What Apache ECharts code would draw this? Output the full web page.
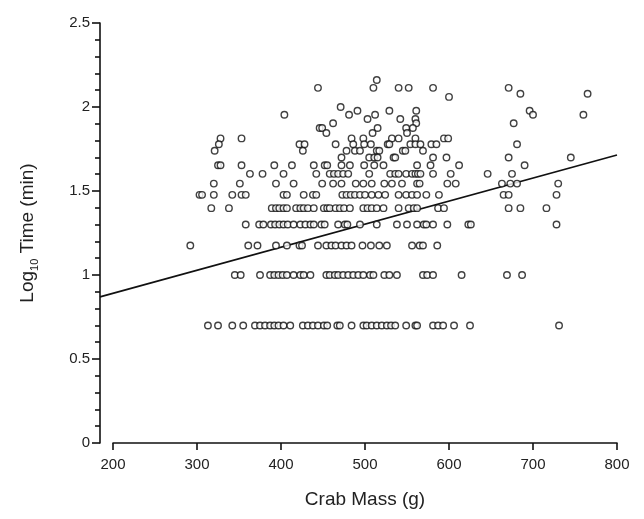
<!DOCTYPE html>
<html>
<head>
<meta charset="utf-8">
<script src="https://cdn.jsdelivr.net/npm/echarts@6/dist/echarts.min.js"></script>
<style>
html,body{margin:0;padding:0;background:#fff;}
#c{width:644px;height:519px;}
</style>
</head>
<body>
<div id="c"></div>
<script>
// Log10 time levels (rows) and crab masses (g) read per row
const timeLevels = [2.161, 2.114, 2.079, 2.06, 2.0, 1.978, 1.954, 1.929, 1.903, 1.875, 1.845, 1.813, 1.778, 1.740, 1.699, 1.653, 1.602, 1.544, 1.477, 1.398, 1.301, 1.176, 1.0, 0.699];
const mass2161 = [514];
const mass2114 = [444, 510, 540, 552, 581, 671];
const mass2079 = [685, 765];
const mass2060 = [600];
const mass2000 = [471];
const mass1978 = [491, 529, 561, 696];
const mass1954 = [404, 481, 512, 700, 760];
const mass1929 = [503, 542, 560];
const mass1903 = [462, 561, 677];
const mass1875 = [446, 449, 515, 549, 557];
const mass1845 = [454, 509, 550];
const mass1813 = [328, 353, 484, 498, 532, 540, 560, 594, 599];
const mass1778 = [326, 422, 428, 465, 486, 499, 507, 527, 529, 554, 560, 566, 579, 585, 681];
const mass1740 = [321, 426, 478, 488, 494, 514, 517, 545, 548, 569];
const mass1699 = [472, 505, 511, 515, 534, 536, 581, 597, 671, 745];
const mass1653 = [325, 328, 353, 392, 413, 439, 452, 455, 472, 482, 499, 511, 522, 562, 578, 612, 690];
const mass1602 = [363, 378, 403, 442, 458, 463, 468, 474, 480, 505, 530, 536, 540, 549, 556, 560, 563, 566, 581, 602, 646, 675];
const mass1544 = [320, 351, 394, 415, 449, 462, 472, 489, 498, 508, 523, 532, 544, 562, 565, 598, 608, 663, 673, 681, 730];
const mass1477 = [303, 306, 320, 342, 353, 358, 403, 407, 427, 438, 442, 473, 478, 483, 488, 494, 500, 508, 516, 524, 540, 549, 556, 562, 573, 588, 665, 671, 728];
const mass1398 = [317, 338, 389, 394, 398, 403, 407, 418, 423, 427, 432, 439, 451, 455, 458, 465, 470, 475, 482, 498, 503, 508, 514, 522, 540, 552, 558, 562, 587, 594, 671, 685, 716];
const mass1301 = [358, 374, 379, 388, 393, 398, 403, 408, 415, 423, 429, 435, 439, 448, 452, 468, 476, 479, 494, 514, 538, 550, 562, 570, 573, 581, 598, 623, 626, 728];
const mass1176 = [292, 361, 372, 394, 407, 422, 425, 444, 454, 460, 465, 472, 478, 484, 497, 507, 517, 526, 556, 565, 569, 586];
const mass1000 = [345, 352, 375, 387, 392, 397, 402, 407, 415, 423, 427, 435, 454, 458, 464, 468, 474, 480, 486, 492, 498, 506, 510, 523, 529, 538, 569, 574, 581, 615, 669, 687];
const mass0699 = [313, 325, 342, 355, 369, 375, 381, 387, 392, 397, 403, 411, 426, 432, 438, 444, 451, 455, 467, 470, 484, 498, 502, 508, 514, 520, 526, 531, 536, 549, 560, 562, 581, 587, 593, 606, 625, 731];

// Regression line endpoints (from the y axis to 800 g)
const fitMass = [184.5, 800];
const fitLog = [0.87, 1.714];

// Axis ticks
const xMin = 184.5;
const xTicks = [200, 300, 400, 500, 600, 700, 800];
const yTicks = [0, 0.5, 1, 1.5, 2, 2.5];

const rows = [mass2161, mass2114, mass2079, mass2060, mass2000, mass1978, mass1954, mass1929, mass1903, mass1875, mass1845, mass1813, mass1778, mass1740, mass1699, mass1653, mass1602, mass1544, mass1477, mass1398, mass1301, mass1176, mass1000, mass0699];
const scatterData = [];
rows.forEach((r, i) => r.forEach(m => scatterData.push([m, timeLevels[i]])));

const FONT = "'Liberation Sans', Arial, Helvetica, sans-serif";
const INK = '#111';
const TXT = '#222';
const plotLeft = 100, plotWidth = 517, plotTop = 23, plotHeight = 420;
const xAxisLeft = plotLeft + plotWidth * (xTicks[0] - xMin) / (xTicks[xTicks.length - 1] - xMin);

const chart = echarts.init(document.getElementById('c'), null, {renderer: 'canvas'});
chart.setOption({
  animation: false,
  backgroundColor: '#fff',
  grid: [
    {left: plotLeft, top: plotTop, width: plotWidth, height: plotHeight},
    {left: xAxisLeft, top: plotTop, width: plotLeft + plotWidth - xAxisLeft, height: plotHeight}
  ],
  xAxis: [
    {
      gridIndex: 0, type: 'value', min: xMin, max: xTicks[xTicks.length - 1],
      axisLine: {show: false}, axisTick: {show: false}, axisLabel: {show: false},
      splitLine: {show: false}
    },
    {
      gridIndex: 1, type: 'value', min: xTicks[0], max: xTicks[xTicks.length - 1], interval: 100,
      offset: 4,
      axisLine: {show: true, lineStyle: {color: INK, width: 1.6}},
      axisTick: {show: true, length: 7, inside: false, lineStyle: {color: INK, width: 1.6}},
      axisLabel: {color: TXT, fontSize: 15, fontFamily: FONT, margin: 10},
      splitLine: {show: false},
      name: 'Crab Mass (g)', nameLocation: 'middle', nameGap: 43,
      nameTextStyle: {color: TXT, fontSize: 19, fontFamily: FONT}
    }
  ],
  yAxis: [
    {
      gridIndex: 0, type: 'value', min: yTicks[0], max: yTicks[yTicks.length - 1], interval: 0.5,
      axisLine: {show: true, lineStyle: {color: INK, width: 1.6}},
      axisTick: {show: true, length: 8, inside: false, lineStyle: {color: INK, width: 1.6}},
      minorTick: {show: true, splitNumber: 5, length: 5, lineStyle: {color: INK, width: 1.6}},
      axisLabel: {color: TXT, fontSize: 15, fontFamily: FONT, margin: 10},
      splitLine: {show: false},
      name: '{a|Log}{s|10}{a| Time (min)}', nameLocation: 'middle', nameGap: 60,
      nameTextStyle: {
        color: TXT, fontSize: 19, fontFamily: FONT,
        rich: {
          a: {fontSize: 19, fontFamily: FONT, color: TXT, lineHeight: 24},
          s: {fontSize: 11, fontFamily: FONT, color: TXT, verticalAlign: 'bottom', lineHeight: 14}
        }
      }
    },
    {
      gridIndex: 1, type: 'value', min: yTicks[0], max: yTicks[yTicks.length - 1],
      show: false
    }
  ],
  series: [
    {
      type: 'scatter', xAxisIndex: 0, yAxisIndex: 0,
      data: scatterData,
      symbol: 'circle', symbolSize: 6.5,
      itemStyle: {color: '#fff', borderColor: INK, borderWidth: 1.4},
      z: 3
    },
    {
      type: 'line', xAxisIndex: 0, yAxisIndex: 0,
      data: fitMass.map((m, i) => [m, fitLog[i]]),
      symbol: 'none',
      lineStyle: {color: INK, width: 1.7},
      z: 2
    }
  ]
});
</script>
</body>
</html>
